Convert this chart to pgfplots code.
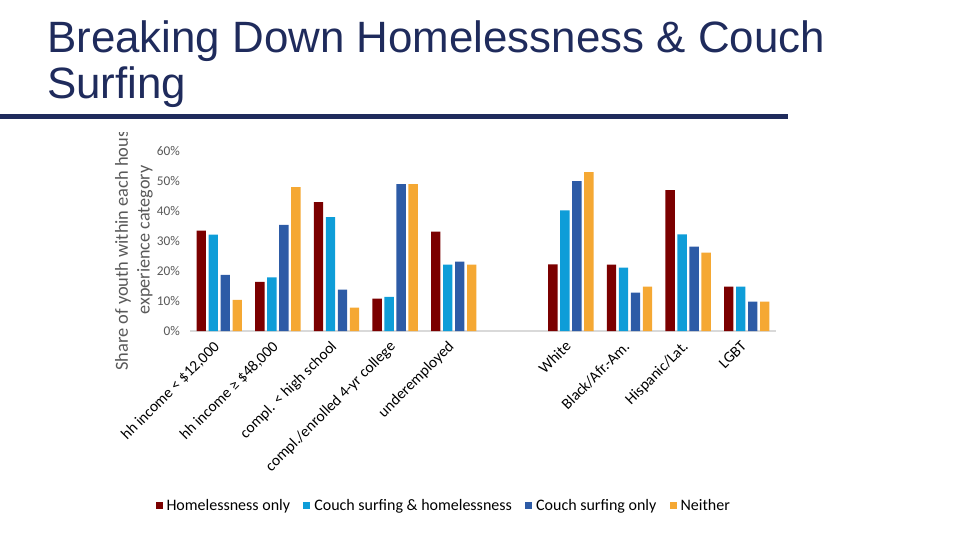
\documentclass[border=0pt]{standalone}
\usepackage{pgfplots}
\pgfplotsset{compat=1.18}
\usepackage{fontspec}
\setmainfont{Carlito}
\newfontfamily\titlefont{Liberation Sans}
\definecolor{cRed}{HTML}{7B0000}
\definecolor{cLB}{HTML}{0E9DD8}
\definecolor{cDB}{HTML}{2D5BA6}
\definecolor{cOr}{HTML}{F5A833}
\definecolor{navy}{HTML}{1F2B5C}
\definecolor{lab}{HTML}{595959}
\begin{document}
\begin{tikzpicture}[x=1pt,y=1pt]
\path[use as bounding box] (0,0) rectangle (720,405);
\node[anchor=base west, inner sep=0, font=\titlefont\fontsize{32.9}{35}\selectfont, text=navy] at (35.25,365.25) {Breaking Down Homelessness \& Couch};
\node[anchor=base west, inner sep=0, font=\titlefont\fontsize{32.9}{35}\selectfont, text=navy] at (35.25,330.75) {Surfing};
\fill[navy] (0,315.5) rectangle (591,319.5);
\begin{scope}
\clip (0,0) rectangle (140,305.25);
\node[rotate=90, font=\fontsize{13.8}{15}\selectfont, text=lab, inner sep=0] at (92.25,225.5) {Share of youth within each housing};
\node[rotate=90, font=\fontsize{13.6}{15}\selectfont, text=lab, inner sep=0] at (108.75,225) {experience category};
\end{scope}
\begin{axis}[
  at={(142.5pt,156.75pt)}, anchor=south west,
  width=439.5pt, height=135pt, scale only axis,
  ybar, bar width=7pt, ybar=2pt,
  xmin=-0.5, xmax=9.5, ymin=0, ymax=60,
  enlargelimits=false,
  axis x line*=bottom, axis y line*=left,
  x axis line style={draw=black!15, thick},
  y axis line style={draw=none},
  major tick length=0pt,
  xtick={0,1,2,3,4,6,7,8,9},
  xticklabels={hh income < \$12{,}000, hh income ≥ \$48{,}000, compl. < high school, compl./enrolled 4-yr college, underemployed, White, Black/Afr.-Am., Hispanic/Lat., LGBT},
  xticklabel style={font=\fontsize{11.6}{13}\selectfont, inner sep=1pt, anchor=north east, xshift=-5pt, yshift=-5pt, rotate=45},
  ytick={0,10,...,60},
  yticklabel={\pgfmathprintnumber{\tick}\%},
  yticklabel style={font=\fontsize{10}{12}\selectfont, text=lab, xshift=-4pt},
  /pgf/number format/assume math mode=true,
  legend style={at={(-0.066,-0.972)}, anchor=west, draw=none, fill=none, legend columns=4, font=\fontsize{12}{14}\selectfont, /tikz/every even column/.append style={column sep=8pt}, /tikz/every odd column/.append style={column sep=1pt}},
]
\addplot[fill=cRed, draw=none, legend image code/.code={\fill[cRed] (0pt,-2.6pt) rectangle (5.2pt,2.6pt);}] coordinates {(0,33.5)(1,16.4)(2,43.0)(3,10.8)(4,33.1)(6,22.2)(7,22.1)(8,47.0)(9,14.8)};
\addplot[fill=cLB, draw=none, legend image code/.code={\fill[cLB] (0pt,-2.6pt) rectangle (5.2pt,2.6pt);}] coordinates {(0,32.1)(1,17.9)(2,38.0)(3,11.4)(4,22.1)(6,40.2)(7,21.1)(8,32.2)(9,14.8)};
\addplot[fill=cDB, draw=none, legend image code/.code={\fill[cDB] (0pt,-2.6pt) rectangle (5.2pt,2.6pt);}] coordinates {(0,18.7)(1,35.4)(2,13.8)(3,49.0)(4,23.1)(6,50.0)(7,12.8)(8,28.1)(9,9.8)};
\addplot[fill=cOr, draw=none, legend image code/.code={\fill[cOr] (0pt,-2.6pt) rectangle (5.2pt,2.6pt);}] coordinates {(0,10.4)(1,48.0)(2,7.8)(3,49.0)(4,22.1)(6,53.0)(7,14.8)(8,26.1)(9,9.8)};
\legend{Homelessness only, Couch surfing \& homelessness, Couch surfing only, Neither}
\end{axis}
\end{tikzpicture}
\end{document}
